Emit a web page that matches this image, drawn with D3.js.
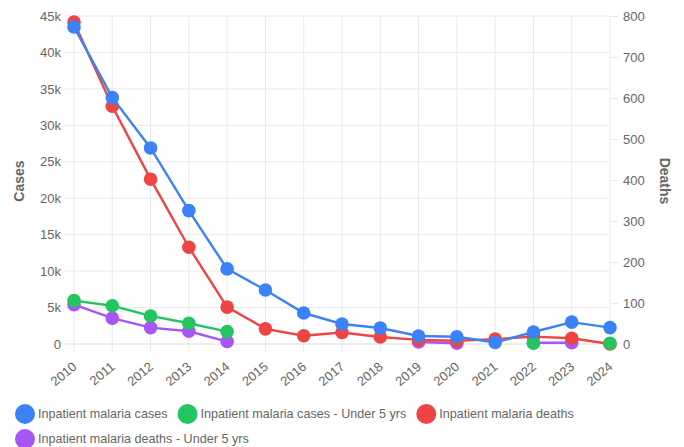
<!DOCTYPE html>
<html>
<head>
<meta charset="utf-8">
<script src="https://cdn.jsdelivr.net/npm/d3@7"></script>
<style>
  body { margin: 0; background: #fff; }
  svg { display: block; font-family: "Liberation Sans", Helvetica, Arial, sans-serif; }
  .tick text { fill: #666; font-size: 13px; }
  .title { fill: #666; font-size: 14px; font-weight: bold; }
  .legend text { fill: #666; font-size: 12.6px; }
</style>
</head>
<body>
<svg id="chart" width="684" height="447"></svg>
<script>
var svg = d3.select("#chart");

// Data
var years = [2010, 2011, 2012, 2013, 2014, 2015, 2016, 2017, 2018, 2019, 2020, 2021, 2022, 2023, 2024];
var cases = [43500, 33800, 26900, 18300, 10300, 7400, 4250, 2750, 2200, 1100, 1000, 200, 1650, 3000, 2250];
var casesU5 = [5950, 5250, 3850, 2850, 1700, null, null, null, null, null, null, null, 100, null, 100];
var deaths = [785, 580, 402, 236, 90, 37, 20, 28, 17, 10, 8, 12, 18, 14, 0];
var deathsU5 = [96, 63, 40, 31, 6, null, null, null, null, 5, 2, null, 3, 3, null];

var leftTicks = [0, 5000, 10000, 15000, 20000, 25000, 30000, 35000, 40000, 45000];
var rightTicks = [0, 100, 200, 300, 400, 500, 600, 700, 800];

var series = [
  {name: "Inpatient malaria cases", values: cases, axis: "left", color: "#3b82f6"},
  {name: "Inpatient malaria cases - Under 5 yrs", values: casesU5, axis: "left", color: "#22c55e"},
  {name: "Inpatient malaria deaths", values: deaths, axis: "right", color: "#ef4444"},
  {name: "Inpatient malaria deaths - Under 5 yrs", values: deathsU5, axis: "right", color: "#a855f7"}
];

var plotL = 74, plotR = 610, plotT = 16, plotB = 344;

var x = d3.scalePoint().domain(years).range([plotL, plotR]);
var yL = d3.scaleLinear().domain([0, 45000]).range([plotB, plotT]);
var yR = d3.scaleLinear().domain([0, 800]).range([plotB, plotT]);

var gridColor = "#e8e9ee";

// vertical grid
svg.append("g").selectAll("line").data(years).join("line")
  .attr("x1", function(d) { return x(d); })
  .attr("x2", function(d) { return x(d); })
  .attr("y1", plotT).attr("y2", plotB + 8)
  .attr("stroke", gridColor);

// horizontal grid (left axis)
svg.append("g").selectAll("line").data(leftTicks).join("line")
  .attr("x1", plotL - 9).attr("x2", plotR)
  .attr("y1", function(d) { return yL(d); })
  .attr("y2", function(d) { return yL(d); })
  .attr("stroke", function(d) { return d === 0 ? "#dcdce0" : gridColor; });

// left axis
var axL = svg.append("g")
  .attr("transform", "translate(" + (plotL - 9) + ",0)")
  .call(d3.axisLeft(yL).tickValues(leftTicks).tickSize(0).tickPadding(4)
    .tickFormat(function(d) { return d === 0 ? "0" : (d / 1000) + "k"; }));
axL.select(".domain").remove();

// right axis
var axR = svg.append("g")
  .attr("transform", "translate(" + plotR + ",0)")
  .call(d3.axisRight(yR).tickValues(rightTicks).tickSize(8).tickPadding(5));
axR.select(".domain").remove();
axR.selectAll(".tick line").attr("stroke", gridColor);

// x axis labels
var axX = svg.append("g")
  .attr("transform", "translate(0," + (plotB + 8) + ")")
  .call(d3.axisBottom(x).tickSize(0).tickPadding(0));
axX.select(".domain").remove();
axX.selectAll(".tick text")
  .attr("text-anchor", "end")
  .attr("y", 0)
  .attr("dy", null)
  .attr("transform", "translate(3,16) rotate(-40)");

// axis titles
svg.append("text").attr("class", "title")
  .attr("transform", "translate(24,181) rotate(-90)")
  .attr("text-anchor", "middle")
  .text("Cases");

svg.append("text").attr("class", "title")
  .attr("transform", "translate(660,181) rotate(90)")
  .attr("text-anchor", "middle")
  .text("Deaths");

// lines and points, first series on top
series.slice().reverse().forEach(function(s) {
  var y = s.axis === "left" ? yL : yR;
  var line = d3.line()
    .defined(function(d) { return d != null; })
    .x(function(d, i) { return x(years[i]); })
    .y(function(d) { return y(d); });

  var g = svg.append("g");
  g.append("path")
    .attr("d", line(s.values))
    .attr("fill", "none")
    .attr("stroke", s.color)
    .attr("stroke-width", 2.4);

  g.selectAll("circle")
    .data(s.values.map(function(v, i) { return {v: v, year: years[i]}; })
      .filter(function(d) { return d.v != null; }))
    .join("circle")
    .attr("cx", function(d) { return x(d.year); })
    .attr("cy", function(d) { return y(d.v); })
    .attr("r", 6.8)
    .attr("fill", s.color);
});

// legend
var legend = svg.append("g").attr("class", "legend");
var lx = 15, ly = 414;
series.forEach(function(s) {
  var item = legend.append("g");
  item.append("circle").attr("cx", 10).attr("cy", 0).attr("r", 10).attr("fill", s.color);
  var t = item.append("text").attr("x", 23).attr("dy", "0.35em").text(s.name);
  var w = 23 + t.node().getComputedTextLength();
  if (lx + w > 684 - 15) { lx = 15; ly += 25; }
  item.attr("transform", "translate(" + lx + "," + ly + ")");
  lx += w + 10;
});
</script>
</body>
</html>
